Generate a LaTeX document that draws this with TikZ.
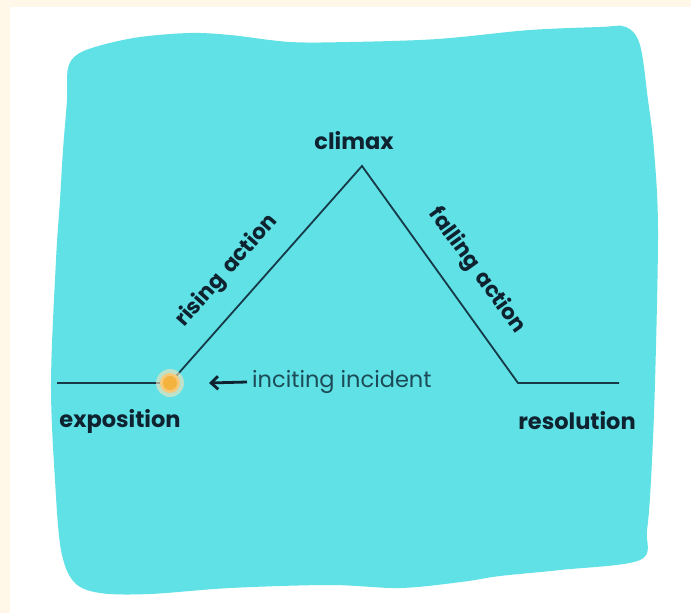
\documentclass[tikz,border=0pt]{standalone}
\usepackage{fontspec}
\setmainfont{Poppins}
\usetikzlibrary{arrows.meta}
\definecolor{cream}{HTML}{FFF8E8}
\definecolor{blob}{HTML}{5FE1E6}
\definecolor{arc}{HTML}{173A48}
\definecolor{ink}{HTML}{0E2230}
\definecolor{soft}{HTML}{1C4A56}
\definecolor{spark}{HTML}{F4B23E}
\tikzset{
  stage/.style={inner sep=0pt,text=ink,font=\fontsize{22.5}{24}\bfseries\selectfont},
  slope/.style={inner sep=0pt,text=ink,font=\fontsize{21.5}{24}\bfseries\selectfont},
  plotline/.style={draw=arc,line width=1.8pt,line join=miter}
}

\begin{document}
\begin{tikzpicture}[x=1pt,y=-1pt]
\path[use as bounding box] (0,0) rectangle (691,613);
\fill[cream] (0,0) rectangle (691,613);
\fill[white] (10,7) rectangle (691,613);
% painted backdrop
\fill[blob] plot[smooth cycle,tension=.55] coordinates {
  (78,54) (102,45) (140,37) (190,33) (230,35) (290,42) (350,42) (420,40)
  (461,37) (530,30) (600,27) (626,27) (640,45) (648,100) (654,150)
  (658,230) (655,383) (651,480) (647,530) (640,560) (560,570) (500,576)
  (461,582) (400,588) (330,585) (230,588) (150,594) (100,593) (74,582)
  (61,550) (55,480) (51,383) (56,260) (60,200) (63,150) (67,100) (68,68)};
% plot points
\coordinate (start) at (57,383);
\coordinate (inc) at (170,383);
\coordinate (peak) at (362,166);
\coordinate (low) at (518,383);
\coordinate (end) at (619,383);
\draw[plotline] (start) -- (inc) -- (peak) -- (low) -- (end);
\fill[spark!35,opacity=.6] (inc) circle (14);
\fill[spark!70] (inc) circle (10);
\fill[spark] (inc) circle (7);
% labels
\node[stage] (climax) at (354,141) {climax};
\node[stage] (exposition) at (120,421) {exposition};
\node[stage] (resolution) at (577,421) {resolution};
\node[slope,rotate=48.6] (rising) at (227,271) {rising\hspace{.35em}action};
\node[slope,rotate=-54.2] (falling) at (477,271) {falling\hspace{.35em}action};
\node[inner sep=0pt,anchor=west,text=soft,font=\fontsize{22.5}{24}\selectfont] (incident) at (252,382) {inciting incident};
\coordinate (tip) at (209,383);
\draw[-{Straight Barb[length=7pt,width=13pt]},line width=2.8pt,ink] ([xshift=-5pt]incident.west) -- (tip);
\end{tikzpicture}
\end{document}
